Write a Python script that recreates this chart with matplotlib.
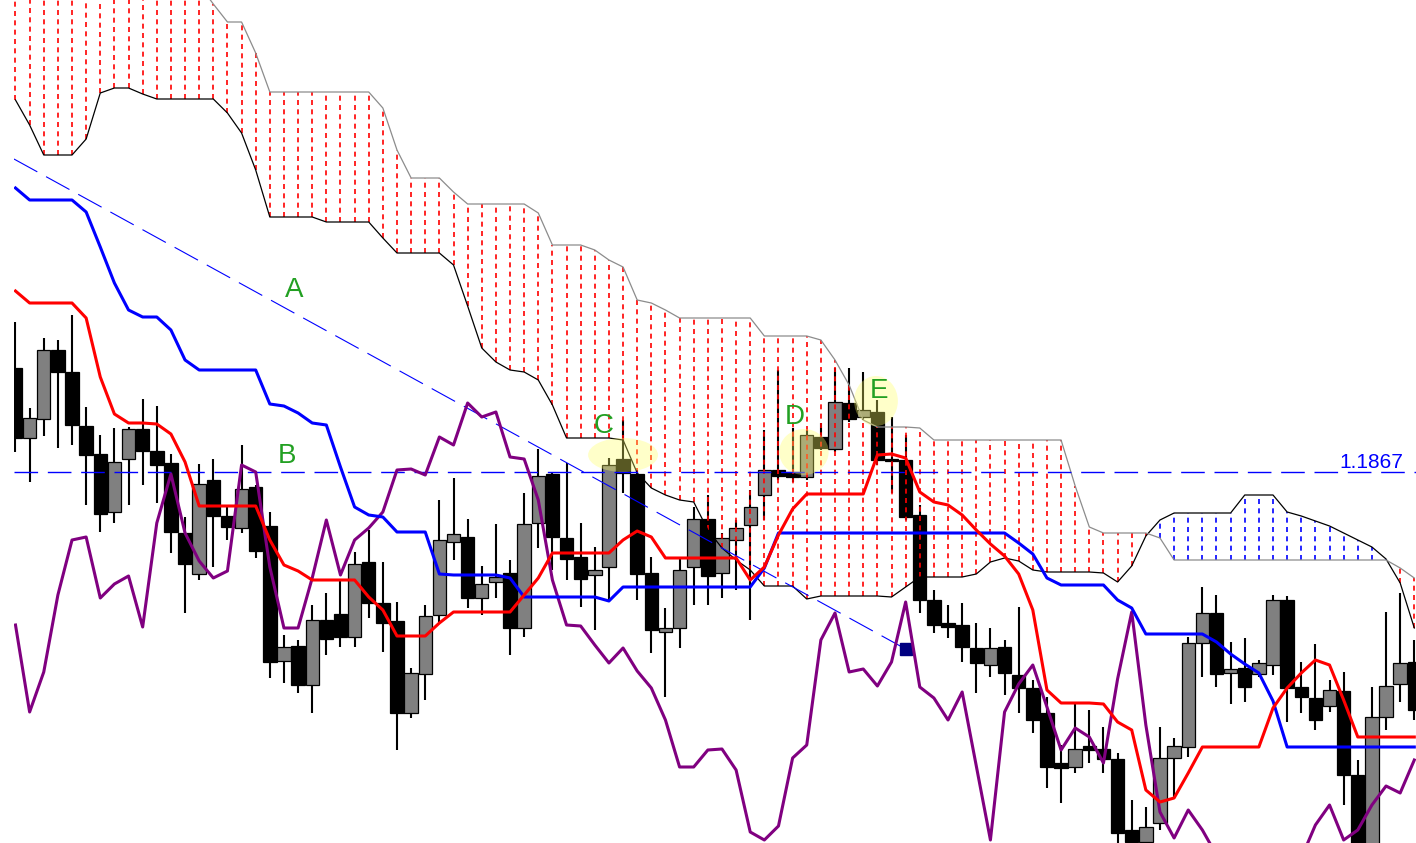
import matplotlib
matplotlib.use("Agg")
import matplotlib.pyplot as plt
from matplotlib.patches import Ellipse
import numpy as np

# daily candles
opens = [1.1971, 1.1901, 1.1920, 1.1989, 1.1967, 1.1913, 1.1885, 1.1827, 1.1880, 1.1910,
         1.1888, 1.1876, 1.1806, 1.1765, 1.1859, 1.1823, 1.1811, 1.1852, 1.1813, 1.1678,
         1.1693, 1.1654, 1.1719, 1.1725, 1.1702, 1.1777, 1.1736, 1.1718, 1.1626, 1.1665,
         1.1724, 1.1797, 1.1802, 1.1741, 1.1757, 1.1766, 1.1711, 1.1816, 1.1865, 1.1801,
         1.1782, 1.1764, 1.1772, 1.1880, 1.1865, 1.1766, 1.1707, 1.1711, 1.1772, 1.1820,
         1.1766, 1.1799, 1.1814, 1.1844, 1.1869, 1.1867, 1.1862, 1.1902, 1.1890, 1.1936,
         1.1922, 1.1927, 1.1880, 1.1879, 1.1824, 1.1739, 1.1716, 1.1714, 1.1691, 1.1674,
         1.1692, 1.1664, 1.1651, 1.1626, 1.1576, 1.1572, 1.1593, 1.1590, 1.1580, 1.1509,
         1.1497, 1.1516, 1.1581, 1.1592, 1.1696, 1.1726, 1.1666, 1.1671, 1.1665, 1.1674,
         1.1739, 1.1652, 1.1641, 1.1633, 1.1648, 1.1564, 1.1484, 1.1622, 1.1655, 1.1677]
highs = [1.2017, 1.1931, 1.2001, 1.1999, 1.2024, 1.1932, 1.1904, 1.1911, 1.1912, 1.1940,
         1.1933, 1.1885, 1.1822, 1.1875, 1.1880, 1.1834, 1.1894, 1.1854, 1.1827, 1.1704,
         1.1699, 1.1734, 1.1746, 1.1759, 1.1787, 1.1809, 1.1777, 1.1737, 1.1671, 1.1734,
         1.1839, 1.1861, 1.1820, 1.1773, 1.1815, 1.1779, 1.1846, 1.1890, 1.1867, 1.1876,
         1.1816, 1.1792, 1.1881, 1.1919, 1.1869, 1.1782, 1.1731, 1.1782, 1.1832, 1.1844,
         1.1806, 1.1819, 1.1849, 1.1909, 1.1969, 1.1911, 1.1909, 1.1916, 1.1971, 1.1971,
         1.1967, 1.1939, 1.1922, 1.1904, 1.1834, 1.1749, 1.1734, 1.1736, 1.1716, 1.1711,
         1.1699, 1.1732, 1.1659, 1.1642, 1.1594, 1.1636, 1.1629, 1.1612, 1.1586, 1.1539,
         1.1532, 1.1612, 1.1601, 1.1702, 1.1752, 1.1744, 1.1697, 1.1701, 1.1679, 1.1744,
         1.1743, 1.1677, 1.1695, 1.1659, 1.1667, 1.1579, 1.1652, 1.1727, 1.1746, 1.1699]
lows = [1.1887, 1.1857, 1.1903, 1.1891, 1.1894, 1.1834, 1.1807, 1.1816, 1.1834, 1.1854,
        1.1836, 1.1786, 1.1726, 1.1759, 1.1772, 1.1799, 1.1806, 1.1781, 1.1661, 1.1656,
        1.1646, 1.1626, 1.1684, 1.1692, 1.1692, 1.1721, 1.1687, 1.1589, 1.1621, 1.1639,
        1.1717, 1.1779, 1.1731, 1.1724, 1.1741, 1.1684, 1.1702, 1.1791, 1.1769, 1.1759,
        1.1732, 1.1709, 1.1739, 1.1846, 1.1739, 1.1686, 1.1642, 1.1691, 1.1734, 1.1734,
        1.1741, 1.1749, 1.1719, 1.1819, 1.1859, 1.1857, 1.1859, 1.1889, 1.1887, 1.1917,
        1.1919, 1.1874, 1.1846, 1.1819, 1.1726, 1.1706, 1.1701, 1.1677, 1.1646, 1.1662,
        1.1644, 1.1626, 1.1606, 1.1551, 1.1536, 1.1566, 1.1576, 1.1566, 1.1494, 1.1489,
        1.1491, 1.1509, 1.1542, 1.1582, 1.1662, 1.1652, 1.1635, 1.1637, 1.1662, 1.1664,
        1.1617, 1.1626, 1.1609, 1.1627, 1.1534, 1.1469, 1.1469, 1.1609, 1.1637, 1.1619]
closes = [1.1901, 1.1921, 1.1989, 1.1967, 1.1914, 1.1884, 1.1825, 1.1877, 1.1910, 1.1888,
          1.1874, 1.1807, 1.1775, 1.1855, 1.1823, 1.1812, 1.1850, 1.1788, 1.1677, 1.1692,
          1.1654, 1.1719, 1.1700, 1.1702, 1.1775, 1.1736, 1.1716, 1.1626, 1.1666, 1.1723,
          1.1799, 1.1805, 1.1741, 1.1755, 1.1762, 1.1711, 1.1815, 1.1863, 1.1802, 1.1780,
          1.1760, 1.1769, 1.1874, 1.1866, 1.1765, 1.1709, 1.1711, 1.1769, 1.1820, 1.1763,
          1.1801, 1.1811, 1.1832, 1.1869, 1.1863, 1.1862, 1.1904, 1.1891, 1.1937, 1.1920,
          1.1929, 1.1879, 1.1878, 1.1822, 1.1739, 1.1714, 1.1712, 1.1692, 1.1676, 1.1691,
          1.1666, 1.1651, 1.1619, 1.1572, 1.1571, 1.1590, 1.1589, 1.1580, 1.1506, 1.1497,
          1.1512, 1.1581, 1.1593, 1.1696, 1.1726, 1.1665, 1.1670, 1.1652, 1.1676, 1.1739,
          1.1651, 1.1642, 1.1619, 1.1649, 1.1564, 1.1484, 1.1622, 1.1653, 1.1676, 1.1629]

# ichimoku lines
tenkan = [1.2048, 1.2036, 1.2036, 1.2036, 1.2036, 1.2021, 1.1962, 1.1925, 1.1916, 1.1916,
          1.1915, 1.1905, 1.1877, 1.1833, 1.1833, 1.1833, 1.1833, 1.1833, 1.1799, 1.1774,
          1.1768, 1.1759, 1.1759, 1.1759, 1.1759, 1.1742, 1.1729, 1.1703, 1.1703, 1.1703,
          1.1716, 1.1727, 1.1727, 1.1727, 1.1727, 1.1727, 1.1744, 1.1761, 1.1786, 1.1786,
          1.1786, 1.1786, 1.1786, 1.1799, 1.1808, 1.1802, 1.1781, 1.1781, 1.1781, 1.1781,
          1.1781, 1.1781, 1.1759, 1.1772, 1.1804, 1.1830, 1.1845, 1.1845, 1.1845, 1.1845,
          1.1845, 1.1884, 1.1885, 1.1881, 1.1847, 1.1837, 1.1834, 1.1824, 1.1809, 1.1795,
          1.1783, 1.1765, 1.1729, 1.1649, 1.1636, 1.1636, 1.1636, 1.1635, 1.1617, 1.1609,
          1.1549, 1.1537, 1.1541, 1.1566, 1.1592, 1.1592, 1.1592, 1.1592, 1.1592, 1.1631,
          1.1651, 1.1666, 1.1679, 1.1674, 1.1639, 1.1602, 1.1602, 1.1602, 1.1602, 1.1602]
kijun = [1.2151, 1.2139, 1.2139, 1.2139, 1.2139, 1.2127, 1.2092, 1.2056, 1.2029, 1.2022,
         1.2022, 1.2009, 1.1979, 1.1969, 1.1969, 1.1969, 1.1969, 1.1969, 1.1935, 1.1933,
         1.1926, 1.1916, 1.1914, 1.1872, 1.1832, 1.1824, 1.1822, 1.1807, 1.1807, 1.1807,
         1.1765, 1.1764, 1.1764, 1.1764, 1.1764, 1.1761, 1.1742, 1.1742, 1.1742, 1.1742,
         1.1742, 1.1742, 1.1738, 1.1752, 1.1752, 1.1752, 1.1752, 1.1752, 1.1752, 1.1752,
         1.1752, 1.1752, 1.1752, 1.1771, 1.1806, 1.1806, 1.1806, 1.1806, 1.1806, 1.1806,
         1.1806, 1.1806, 1.1806, 1.1806, 1.1806, 1.1806, 1.1806, 1.1806, 1.1806, 1.1806,
         1.1806, 1.1796, 1.1785, 1.1761, 1.1754, 1.1754, 1.1754, 1.1754, 1.1739, 1.1731,
         1.1705, 1.1705, 1.1705, 1.1705, 1.1705, 1.1697, 1.1685, 1.1675, 1.1666, 1.1638,
         1.1592, 1.1592, 1.1592, 1.1592, 1.1592, 1.1592, 1.1592, 1.1592, 1.1592, 1.1592]
span_a = [1.2239, 1.2214, 1.2184, 1.2184, 1.2184, 1.2200, 1.2246, 1.2251, 1.2251, 1.2245,
          1.2240, 1.2240, 1.2240, 1.2240, 1.2240, 1.2226, 1.2206, 1.2169, 1.2122, 1.2122,
          1.2122, 1.2122, 1.2117, 1.2117, 1.2117, 1.2117, 1.2101, 1.2086, 1.2086, 1.2086,
          1.2086, 1.2074, 1.2033, 1.1991, 1.1977, 1.1969, 1.1967, 1.1959, 1.1934, 1.1901,
          1.1901, 1.1901, 1.1901, 1.1899, 1.1866, 1.1851, 1.1844, 1.1839, 1.1837, 1.1809,
          1.1791, 1.1779, 1.1769, 1.1753, 1.1753, 1.1753, 1.1740, 1.1743, 1.1743, 1.1743,
          1.1743, 1.1743, 1.1742, 1.1752, 1.1762, 1.1762, 1.1762, 1.1762, 1.1765, 1.1777,
          1.1781, 1.1778, 1.1769, 1.1767, 1.1767, 1.1767, 1.1767, 1.1766, 1.1757, 1.1773,
          1.1803, 1.1819, 1.1826, 1.1826, 1.1826, 1.1826, 1.1826, 1.1844, 1.1844, 1.1844,
          1.1827, 1.1823, 1.1818, 1.1813, 1.1806, 1.1799, 1.1792, 1.1780, 1.1756, 1.1711]
span_b = [1.2380, 1.2380, 1.2380, 1.2380, 1.2380, 1.2380, 1.2380, 1.2380, 1.2380, 1.2380,
          1.2380, 1.2380, 1.2380, 1.2354, 1.2335, 1.2317, 1.2317, 1.2286, 1.2247, 1.2247,
          1.2247, 1.2247, 1.2247, 1.2247, 1.2247, 1.2247, 1.2231, 1.2189, 1.2161, 1.2161,
          1.2161, 1.2147, 1.2135, 1.2135, 1.2135, 1.2135, 1.2135, 1.2126, 1.2094, 1.2094,
          1.2094, 1.2089, 1.2079, 1.2072, 1.2039, 1.2036, 1.2029, 1.2021, 1.2021, 1.2021,
          1.2021, 1.2021, 1.2021, 1.2003, 1.2003, 1.2003, 1.2003, 1.1999, 1.1979, 1.1954,
          1.1919, 1.1912, 1.1912, 1.1912, 1.1911, 1.1899, 1.1899, 1.1899, 1.1899, 1.1899,
          1.1899, 1.1899, 1.1899, 1.1899, 1.1899, 1.1853, 1.1812, 1.1806, 1.1806, 1.1806,
          1.1806, 1.1801, 1.1779, 1.1779, 1.1779, 1.1779, 1.1779, 1.1779, 1.1779, 1.1779,
          1.1779, 1.1779, 1.1779, 1.1779, 1.1779, 1.1779, 1.1779, 1.1779, 1.1771, 1.1761]
chikou = [1.1714, 1.1627, 1.1667, 1.1744, 1.1799, 1.1802, 1.1741, 1.1755, 1.1763, 1.1712,
          1.1816, 1.1865, 1.1806, 1.1778, 1.1761, 1.1768, 1.1874, 1.1867, 1.1772, 1.1711,
          1.1711, 1.1761, 1.1819, 1.1764, 1.1799, 1.1811, 1.1827, 1.1869, 1.1870, 1.1864,
          1.1902, 1.1894, 1.1936, 1.1922, 1.1927, 1.1882, 1.1880, 1.1839, 1.1759, 1.1714,
          1.1713, 1.1694, 1.1676, 1.1691, 1.1668, 1.1651, 1.1619, 1.1572, 1.1572, 1.1589,
          1.1590, 1.1569, 1.1507, 1.1499, 1.1513, 1.1581, 1.1594, 1.1699, 1.1726, 1.1667,
          1.1670, 1.1653, 1.1677, 1.1737, 1.1652, 1.1641, 1.1619, 1.1647, 1.1573, 1.1499,
          1.1627, 1.1655, 1.1674, 1.1632, 1.1589, 1.1611, 1.1602, 1.1576, 1.1660, 1.1727,
          1.1614, 1.1527, 1.1501, 1.1529, 1.1509, 1.1484, 1.1464, 1.1459, 1.1464, 1.1469,
          1.1477, 1.1481, 1.1514, 1.1534, 1.1499, 1.1509, 1.1534, 1.1553, 1.1546, 1.1579]

# drawn objects
level_price = 1.1867
trend_x = [-0.11, 63]
trend_y = [1.2180, 1.1690]
labels = ["A", "B", "C", "D", "E"]
label_x = [19.7, 19.2, 41.65, 55.15, 61.1]
label_y = [1.2049, 1.1883, 1.1913, 1.1922, 1.1948]
mark_x = [43.0, 55.8, 60.9]
mark_y = [1.1884, 1.1887, 1.1938]
mark_w = [4.95, 3.5, 3.1]
mark_h = [0.0034, 0.0046, 0.0050]

fig = plt.figure(figsize=(14.16, 8.43), dpi=100)
ax = fig.add_axes([14 / 1416, 0, 1402 / 1416, 1])
ax.set_xlim(-0.106, 99.12)
ax.set_ylim(1.1496, 1.2339)
ax.set_axis_off()

x = np.arange(len(opens))
o = np.array(opens)
c = np.array(closes)
up = c > o

# candles
ax.vlines(x, lows, highs, color="black", lw=1.5, zorder=2)
ax.bar(x, np.abs(c - o), bottom=np.minimum(o, c), width=0.95,
       color=np.where(up, "#808080", "black"), edgecolor="black",
       linewidth=0.9, zorder=3)

# cloud hatch
a = np.array(span_a)
b = np.array(span_b)
bear = b > a
ax.vlines(x[bear], a[bear], b[bear], colors="red", lw=1.2,
          linestyles=(0, (3.0, 2.6)), zorder=4)
ax.vlines(x[~bear], b[~bear], a[~bear], colors="blue", lw=1.2,
          linestyles=(0, (3.0, 2.6)), zorder=4)
ax.plot(x, span_a, color="black", lw=0.9, zorder=5)
ax.plot(x, span_b, color="#8c8c8c", lw=0.9, zorder=5)

# level and trend line
ax.axhline(level_price, color="blue", lw=1.0, dashes=(17, 7), zorder=6)
ax.text(98.2, level_price + 0.0004, "1.1867", color="blue", fontsize=15,
        family="Liberation Sans", ha="right", va="baseline", zorder=9)
ax.plot(trend_x, trend_y, color="blue", lw=0.8, dashes=(24, 9), zorder=6)
ax.plot(trend_x[1], trend_y[1], marker="s", ms=8.5, color="#000080", zorder=6)

# tenkan, kijun, chikou
kw = dict(lw=2.2, solid_joinstyle="round", zorder=7)
ax.plot(x, chikou, color="#800080", **kw)
ax.plot(x, kijun, color="blue", **kw)
ax.plot(x, tenkan, color="red", **kw)

# highlights and labels
for mx, my, mw, mh in zip(mark_x, mark_y, mark_w, mark_h):
    ax.add_patch(Ellipse((mx, my), mw, mh, facecolor=(1, 1, 0.4),
                         edgecolor="none", alpha=0.35, zorder=8))
for s, lx, ly in zip(labels, label_x, label_y):
    ax.text(lx, ly, s, color="#22a022", fontsize=20, family="Liberation Sans",
            ha="center", va="center", zorder=9)

fig.savefig("out.png", dpi=100)
